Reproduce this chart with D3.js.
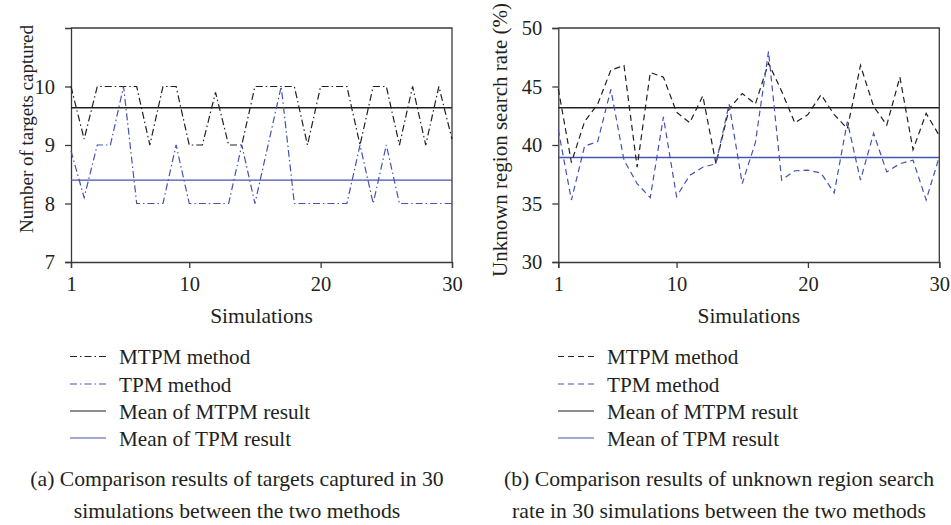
<!DOCTYPE html>
<html>
<head>
<meta charset="utf-8">
<script src="https://cdn.jsdelivr.net/npm/d3@7"></script>
<style>
    body { margin: 0; background: #fff; }
    text { font-family: "Liberation Serif", "Times New Roman", serif; fill: #231f20; }
</style>
</head>
<body>
<svg id="chart" width="951" height="525"></svg>
<script>
// simulation index (x axis)
var simulations = [1, 2, 3, 4, 5, 6, 7, 8, 9, 10, 11, 12, 13, 14, 15,
    16, 17, 18, 19, 20, 21, 22, 23, 24, 25, 26, 27, 28, 29, 30];

// (a) number of targets captured
var targetsMTPM = [10, 9.1, 10, 10, 10, 10, 9, 10, 10, 9, 9, 9.9, 9, 9, 10,
    10, 10, 10, 9, 10, 10, 10, 9, 10, 10, 9, 10, 9, 10, 9.1];
var targetsTPM = [8.9, 8.1, 9, 9, 10, 8, 8, 8, 9, 8, 8, 8, 8, 9, 8,
    9, 10, 8, 8, 8, 8, 8, 9, 8, 9, 8, 8, 8, 8, 8];

// (b) unknown region search rate (%)
var searchMTPM = [44.8, 38.5, 42, 43.5, 46.4, 46.8, 38.1, 46.2, 45.8, 42.8, 41.9, 44.2, 38.4, 43.1, 44.4,
    43.5, 47.0, 44.6, 41.9, 42.6, 44.3, 42.6, 41.4, 46.8, 43.3, 41.7, 45.8, 39.6, 42.7, 40.8];
var searchTPM = [41.3, 35.3, 39.9, 40.3, 44.75, 38.7, 36.7, 35.5, 42.4, 35.6, 37.4, 38.1, 38.4, 43.5, 36.7,
    40.2, 48.0, 37.0, 37.8, 37.85, 37.6, 35.9, 42.0, 37.0, 41.0, 37.7, 38.4, 38.7, 35.3, 39.0];

var xTicks = [1, 10, 20, 30];
var targetTicks = [7, 8, 9, 10];
var searchTicks = [30, 35, 40, 45, 50];
var legendLabels = ["MTPM method", "TPM method", "Mean of MTPM result", "Mean of TPM result"];

var black = "#231f20";
var blue = "#4453b2";
var frame = "#3a3a3a";

var svg = d3.select("#chart");

function drawPanel(p) {

    var g = svg.append("g");

    var x = d3.scaleLinear().domain([1, 30]).range([p.left, p.right]);
    var y = d3.scaleLinear().domain(p.yDomain).range([p.bottom, p.top]);

    // x axis
    var xAxis = g.append("g")
        .attr("transform", "translate(0," + p.bottom + ")")
        .call(d3.axisBottom(x).tickValues(xTicks).tickFormat(d3.format("d"))
            .tickSize(6).tickPadding(8));

    // y axis
    var yAxis = g.append("g")
        .attr("transform", "translate(" + p.left + ",0)")
        .call(d3.axisLeft(y).tickValues(p.yTicks).tickFormat(d3.format("d"))
            .tickSize(6).tickPadding(10));

    [xAxis, yAxis].forEach(function (a) {
        a.select(".domain").attr("stroke", frame).attr("stroke-width", 1.3);
        a.selectAll(".tick line").attr("stroke", frame).attr("stroke-width", 1.3);
        a.selectAll(".tick text")
            .attr("font-family", "Liberation Serif")
            .attr("font-size", 20.5)
            .attr("fill", black);
    });

    // top and right frame
    g.append("path")
        .attr("d", "M" + p.left + "," + p.top + "H" + p.right + "V" + p.bottom)
        .attr("fill", "none")
        .attr("stroke", frame)
        .attr("stroke-width", 1.3);

    var line = d3.line()
        .x(function (d, i) { return x(simulations[i]); })
        .y(function (d) { return y(d); });

    var series = [
        { values: p.mtpm, color: black, dash: p.dash },
        { values: p.tpm, color: blue, dash: p.dash }
    ];

    // mean lines
    var means = [
        { value: d3.mean(p.mtpm), color: black },
        { value: d3.mean(p.tpm), color: blue }
    ];

    g.selectAll(".mean")
        .data(means)
        .enter().append("line")
        .attr("class", "mean")
        .attr("x1", p.left)
        .attr("x2", p.right)
        .attr("y1", function (d) { return y(d.value); })
        .attr("y2", function (d) { return y(d.value); })
        .attr("stroke", function (d) { return d.color; })
        .attr("stroke-width", 1.3);

    g.selectAll(".series")
        .data(series)
        .enter().append("path")
        .attr("class", "series")
        .attr("d", function (d) { return line(d.values); })
        .attr("fill", "none")
        .attr("stroke", function (d) { return d.color; })
        .attr("stroke-width", 1.2)
        .attr("stroke-dasharray", function (d) { return d.dash; });

    // axis titles
    g.append("text")
        .attr("x", (p.left + p.right) / 2)
        .attr("y", 323)
        .attr("text-anchor", "middle")
        .attr("font-size", 21.5)
        .text("Simulations");

    g.append("text")
        .attr("transform", "translate(" + p.yTitleX + "," + p.yTitleY + ") rotate(-90)")
        .attr("text-anchor", "middle")
        .attr("font-size", p.yTitleSize)
        .text(p.yTitle);

    // legend
    var legendStyles = [
        { color: black, dash: p.dash },
        { color: blue, dash: p.dash },
        { color: black, dash: null },
        { color: blue, dash: null }
    ];
    var rowY = [364, 391.5, 418.5, 445.5];

    legendLabels.forEach(function (label, i) {
        g.append("line")
            .attr("x1", p.legendX)
            .attr("x2", p.legendX + 36)
            .attr("y1", rowY[i] - 7.5)
            .attr("y2", rowY[i] - 7.5)
            .attr("stroke", legendStyles[i].color)
            .attr("stroke-width", 1.2)
            .attr("stroke-dasharray", legendStyles[i].dash);

        g.append("text")
            .attr("x", p.legendX + 49)
            .attr("y", rowY[i])
            .attr("font-size", 21.2)
            .text(label);
    });

    // caption
    p.caption.forEach(function (c, i) {
        g.append("text")
            .attr("x", p.captionX)
            .attr("y", 485.5 + i * 32.8)
            .attr("text-anchor", "middle")
            .attr("font-size", 21.7)
            .text(c);
    });
}

drawPanel({
    left: 71, right: 452, top: 28, bottom: 262,
    yDomain: [7, 11], yTicks: targetTicks,
    mtpm: targetsMTPM, tpm: targetsTPM,
    dash: "7,3,1.5,3",
    yTitle: "Number of targets captured", yTitleX: 33, yTitleY: 129, yTitleSize: 19,
    legendX: 70,
    captionX: 237,
    caption: ["(a) Comparison results of targets captured in 30",
              "simulations between the two methods"]
});

drawPanel({
    left: 558.3, right: 939.3, top: 28, bottom: 262,
    yDomain: [30, 50], yTicks: searchTicks,
    mtpm: searchMTPM, tpm: searchTPM,
    dash: "6,4",
    yTitle: "Unknown region search rate (%)", yTitleX: 507, yTitleY: 140, yTitleSize: 21,
    legendX: 558,
    captionX: 719,
    caption: ["(b) Comparison results of unknown region search",
              "rate in 30 simulations between the two methods"]
});
</script>
</body>
</html>
